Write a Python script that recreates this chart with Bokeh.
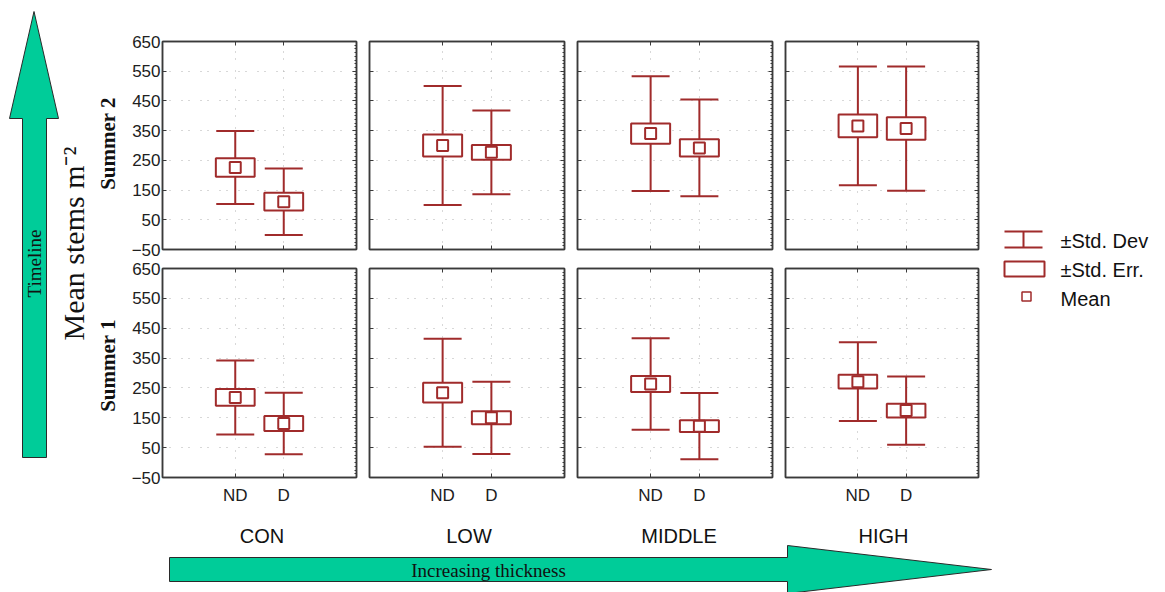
import numpy as np
from bokeh.plotting import figure
from bokeh.models import (Range1d, FactorRange, FixedTicker, LinearAxis,
                          CategoricalAxis, ColumnDataSource)
from bokeh.layouts import row, column
from bokeh.embed import file_html
from bokeh.resources import INLINE
from bokeh.core.properties import value

# ---------------- data ----------------
groups = ["CON", "LOW", "MIDDLE", "HIGH"]
treatments = ["ND", "D"]
seasons = ["Summer 2", "Summer 1"]
y_ticks = [-50, 50, 150, 250, 350, 450, 550, 650]

# per group: [ND, D]
s2_mean = [[226, 111], [300, 277], [340, 292], [366, 357]]
s2_se = [[31, 30], [37, 25], [34, 29], [38, 38]]
s2_sd = [[123, 112], [200, 141], [193, 163], [200, 209]]

s1_mean = [[218, 131], [234, 150], [263, 122], [271, 174]]
s1_se = [[28, 25], [33, 22], [27, 20], [23, 23]]
s1_sd = [[124, 103], [181, 121], [153, 111], [132, 114]]

legend_labels = ["\u00b1Std. Dev", "\u00b1Std. Err.", "Mean"]

# ---------------- styles ----------------
RED = "#A02B2B"
FRAME = "#3a3a3a"
GREEN = "#00CC99"
SANS = "Liberation Sans"
SERIF = "Liberation Serif"

col_borders = [(42, 6), (7, 6), (7, 6), (7, 2)]
col_widths = [242, 208, 208, 202]
row_borders = [(41, 9), (10, 35)]
row_heights = [258, 254]


def make_panel(means, ses, sds, ci, ri):
    bl, br = col_borders[ci]
    bt, bb = row_borders[ri]
    p = figure(width=col_widths[ci], height=row_heights[ri],
               x_range=FactorRange(*treatments, range_padding=1.0,
                                   range_padding_units="absolute"),
               y_range=Range1d(-50, 650),
               output_backend="svg", toolbar_location=None,
               min_border_left=bl, min_border_right=br,
               min_border_top=bt, min_border_bottom=bb,
               background_fill_color="white", border_fill_color="white")
    p.outline_line_color = FRAME
    p.outline_line_width = 1.5

    # sparse dotted grids
    p.xgrid.grid_line_color = "#b0b0b0"
    p.xgrid.grid_line_dash = "1 6 1 11"
    p.ygrid.grid_line_color = "#b0b0b0"
    p.ygrid.grid_line_dash = "1 6 1 11"

    ya = p.yaxis[0]
    ya.ticker = FixedTicker(ticks=y_ticks)
    xa = p.xaxis[0]

    minor = list(np.arange(-50, 651, 12.5))
    ra = LinearAxis(ticker=FixedTicker(ticks=y_ticks, minor_ticks=minor))
    ta = CategoricalAxis()
    p.add_layout(ra, "right")
    p.add_layout(ta, "above")

    for ax in (ya, xa, ra, ta):
        ax.axis_line_color = FRAME
        ax.axis_line_width = 1.5
        ax.major_tick_in = 4
        ax.major_tick_out = 0
        ax.major_tick_line_color = FRAME
        ax.minor_tick_in = 0
        ax.minor_tick_out = 0
        ax.major_label_text_font = SANS
        # hidden labels: not drawn at all, and take almost no room
        ax.major_label_text_color = None
        ax.major_label_text_font_size = "1px"
        ax.major_label_standoff = 0
    ra.minor_tick_in = 2
    ra.minor_tick_line_color = FRAME

    if ci == 0:
        ya.major_label_text_font_size = "17px"
        ya.major_label_text_color = "#202020"
        ya.major_label_standoff = 2
    if ri == 1:
        xa.major_label_text_font_size = "17px"
        xa.major_label_text_color = "#202020"
        xa.major_label_standoff = 8

    m = np.array(means, dtype=float)
    se = np.array(ses, dtype=float)
    sd = np.array(sds, dtype=float)
    src = ColumnDataSource(dict(t=treatments, mean=m,
                                se_lo=m - se, se_hi=m + se,
                                sd_lo=m - sd, sd_hi=m + sd))
    p.segment(x0="t", y0="sd_lo", x1="t", y1="sd_hi", source=src,
              line_color=RED, line_width=2)
    p.scatter(x="t", y="sd_lo", source=src, marker="dash", size=38,
              line_color=RED, line_width=2)
    p.scatter(x="t", y="sd_hi", source=src, marker="dash", size=38,
              line_color=RED, line_width=2)
    p.vbar(x="t", width=0.8, bottom="se_lo", top="se_hi", source=src,
           fill_color="white", line_color=RED, line_width=2)
    p.scatter(x="t", y="mean", source=src, marker="square", size=11,
              fill_color="white", line_color=RED, line_width=2)
    return p


season_data = [(s2_mean, s2_se, s2_sd), (s1_mean, s1_se, s1_sd)]
panels = [[make_panel(season_data[r][0][c], season_data[r][1][c],
                      season_data[r][2][c], c, r) for c in range(4)]
          for r in range(2)]


def deco_fig(w, h, xr, yr):
    f = figure(width=w, height=h, x_range=xr, y_range=yr,
               output_backend="svg", toolbar_location=None,
               min_border=0, x_axis_location=None, y_axis_location=None,
               background_fill_color="white", border_fill_color="white")
    f.outline_line_color = None
    f.xgrid.visible = False
    f.ygrid.visible = False
    return f


# ---------------- left decoration ----------------
left = deco_fig(120, 512, Range1d(0, 120), Range1d(512, 0))
left.patch(x=[22, 22, 9, 33.5, 58, 46, 46], y=[457, 118, 118, 11, 118, 118, 457],
           fill_color=GREEN, line_color="#2a2a2a", line_width=1)
left.text(x=[34], y=[263], text=["Timeline"], angle=np.pi / 2,
          text_align="center", text_baseline="middle",
          text_font=value(SERIF), text_font_size="19px", text_color="#111111")
left.text(x=[73], y=[243], text=["Mean stems m\u207b\u00b2"], angle=np.pi / 2,
          text_align="center", text_baseline="middle",
          text_font=value(SERIF), text_font_size="30px", text_color="#111111")
left.text(x=[107.5, 107.5], y=[143, 365], text=seasons, angle=np.pi / 2,
          text_align="center", text_baseline="middle",
          text_font=value(SERIF), text_font_style="bold",
          text_font_size="21px", text_color="#111111")

# ---------------- legend ----------------
leg = deco_fig(185, 512, Range1d(980, 1165), Range1d(512, 0))
leg.segment(x0=[1004, 1004, 1023], y0=[231, 247, 231],
            x1=[1042, 1042, 1023], y1=[231, 247, 247],
            line_color=RED, line_width=2)
leg.quad(left=[1004], right=[1044], top=[261], bottom=[276],
         fill_color="white", line_color=RED, line_width=2)
leg.scatter(x=[1026], y=[296], marker="square", size=9,
            fill_color="white", line_color=RED, line_width=1.5)
leg.text(x=[1060, 1060, 1060], y=[240, 269, 298], text=legend_labels,
         text_align="left", text_baseline="middle",
         text_font=value(SANS), text_font_size="20px", text_color="#111111")

# ---------------- bottom decoration ----------------
bottom = deco_fig(1165, 80, Range1d(0, 1165), Range1d(592, 512))
bottom.text(x=[261.5, 468.5, 678.5, 883], y=[535.5] * 4, text=groups,
            text_align="center", text_baseline="middle",
            text_font=value(SANS), text_font_size="20px", text_color="#111111")
bottom.patch(x=[169, 787, 787, 991, 787, 787, 169],
             y=[557, 557, 545, 569, 593, 581, 581],
             fill_color=GREEN, line_color="#2a2a2a", line_width=1)
bottom.text(x=[488], y=[570], text=["Increasing thickness"],
            text_align="center", text_baseline="middle",
            text_font=value(SERIF), text_font_size="19px", text_color="#111111")

top = row(left,
          column(panels[0][0], panels[1][0]),
          column(panels[0][1], panels[1][1]),
          column(panels[0][2], panels[1][2]),
          column(panels[0][3], panels[1][3]),
          leg)
layout = column(top, bottom)

open("out.html", "w").write(file_html(layout, INLINE))
